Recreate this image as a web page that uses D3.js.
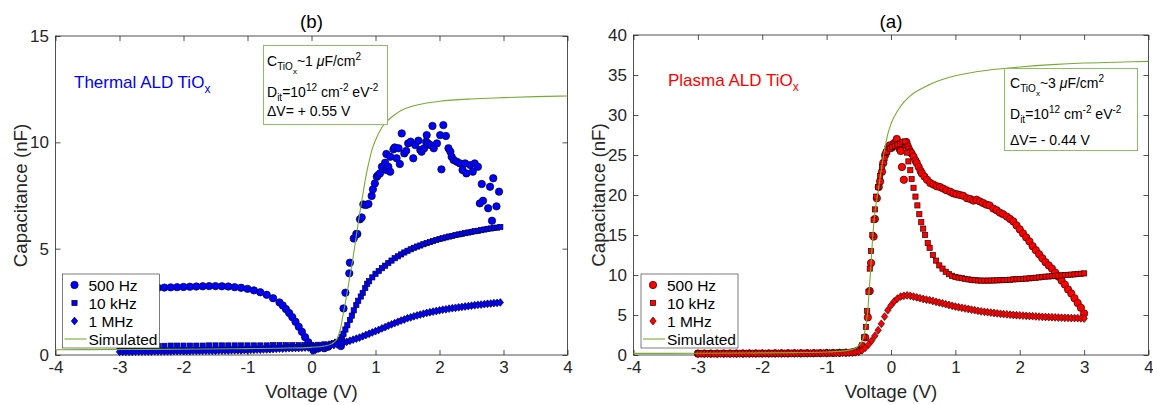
<!DOCTYPE html>
<html>
<head>
<meta charset="utf-8">
<script src="https://cdn.jsdelivr.net/npm/d3@7"></script>
<style>
  body { margin: 0; background: #fff; }
  svg { display: block; font-family: "Liberation Sans", Arial, Helvetica, sans-serif; }
</style>
</head>
<body>
<svg id="chart" width="1153" height="405"></svg>
<script>
// ---- data ----
const voltTicks = [-4, -3, -2, -1, 0, 1, 2, 3, 4];
const capTicksB = [0, 5, 10, 15];
const capTicksA = [0, 5, 10, 15, 20, 25, 30, 35, 40];
const legendLabels = ["500 Hz", "10 kHz", "1 MHz", "Simulated"];

// (b) thermal ALD, [V, nF]
const b500 = [
  [-3.0,3.10],[-2.9,3.11],[-2.8,3.12],[-2.7,3.13],[-2.6,3.14],[-2.5,3.15],[-2.4,3.16],[-2.3,3.17],
  [-2.2,3.18],[-2.1,3.19],[-2.0,3.20],[-1.9,3.21],[-1.8,3.22],[-1.7,3.23],[-1.6,3.24],[-1.5,3.24],
  [-1.4,3.23],[-1.3,3.22],[-1.2,3.19],[-1.1,3.16],[-1.0,3.11],[-0.9,3.04],[-0.8,2.95],[-0.7,2.83],
  [-0.6,2.67],[-0.5,2.47],[-0.45,2.33],[-0.4,2.16],[-0.35,1.98],[-0.3,1.78],[-0.25,1.56],[-0.2,1.33],
  [-0.15,1.09],[-0.1,0.84],[-0.05,0.60],[0.0,0.38],[0.03,0.22],[0.1,0.30],[0.2,0.32],[0.26,0.39],
  [0.46,0.42],[0.50,2.19],[0.53,2.93],[0.59,3.84],[0.60,4.34],[0.66,5.48],[0.70,5.69],
  [0.716,5.69],[0.758,6.38],[0.784,6.47],[0.81,7.08],[0.85,7.05],[0.89,7.10],[0.94,7.48],[0.96,7.79],
  [0.99,8.07],[1.02,8.38],[1.04,8.46],[1.07,8.54],[1.10,8.85],[1.15,9.04],[1.17,8.70],[1.20,8.85],
  [1.23,8.62],[1.17,9.45],[1.23,9.32],[1.28,9.67],[1.30,9.76],[1.33,9.25],[1.36,9.72],[1.41,10.42],
  [1.38,8.98],[1.45,9.48],[1.48,9.60],[1.51,9.95],[1.55,10.03],[1.59,9.25],[1.62,9.87],[1.67,10.08],
  [1.70,9.64],[1.72,9.56],[1.76,9.72],[1.79,10.03],[1.80,10.34],[1.82,9.95],[1.86,9.87],[1.89,10.77],
  [1.91,9.72],[1.96,9.95],[2.01,10.34],[2.06,10.81],[2.10,10.30],[2.03,8.73],[2.14,9.72],[2.17,9.56],
  [2.19,9.32],[2.22,9.17],[2.27,9.09],[2.32,9.01],[2.36,8.70],[2.40,9.01],[2.42,8.54],[2.48,8.93],
  [2.52,8.62],[2.55,9.01],[2.60,8.85],[2.63,7.13],[2.66,8.04],[2.68,7.25],[2.76,6.90],[2.79,7.91],
  [2.82,6.31],[2.84,8.31],[2.89,6.99],[2.93,7.68]
];
const b10k = [
  [-3.0,0.42],[-2.9,0.42],[-2.8,0.42],[-2.7,0.43],[-2.6,0.43],[-2.5,0.43],[-2.4,0.43],[-2.3,0.43],
  [-2.2,0.44],[-2.1,0.44],[-2.0,0.44],[-1.9,0.44],[-1.8,0.44],[-1.7,0.44],[-1.6,0.45],[-1.5,0.45],
  [-1.4,0.45],[-1.3,0.45],[-1.2,0.45],[-1.1,0.45],[-1.0,0.45],[-0.9,0.45],[-0.8,0.45],[-0.7,0.45],
  [-0.6,0.46],[-0.5,0.46],[-0.4,0.46],[-0.3,0.46],[-0.2,0.46],[-0.1,0.46],[0.0,0.47],[0.1,0.48],
  [0.2,0.50],[0.3,0.53],[0.35,0.56],[0.4,0.62],[0.45,0.72],[0.48,0.85],[0.5,1.00],[0.53,1.20],
  [0.56,1.40],[0.6,1.65],[0.63,1.85],[0.66,2.10],[0.7,2.35],[0.73,2.55],[0.77,2.75],[0.8,2.92],
  [0.84,3.15],[0.87,3.35],[0.9,3.47],[0.95,3.65],[1.0,3.82],[1.05,3.95],[1.1,4.08],[1.15,4.20],
  [1.2,4.32],[1.25,4.44],[1.3,4.55],[1.35,4.64],[1.4,4.73],[1.45,4.82],[1.5,4.90],[1.55,4.97],
  [1.6,5.04],[1.65,5.10],[1.7,5.15],[1.75,5.21],[1.8,5.26],[1.85,5.31],[1.9,5.36],[1.95,5.41],
  [2.0,5.45],[2.05,5.49],[2.1,5.53],[2.15,5.57],[2.2,5.60],[2.25,5.64],[2.3,5.67],[2.35,5.70],
  [2.4,5.73],[2.45,5.76],[2.5,5.79],[2.55,5.82],[2.6,5.84],[2.65,5.87],[2.7,5.90],[2.75,5.93],
  [2.8,5.95],[2.85,5.97],[2.9,5.99],[2.95,6.02]
];
const b1M = [
  [-3.00,0.15],[-2.95,0.15],[-2.90,0.15],[-2.85,0.15],[-2.80,0.15],[-2.75,0.16],[-2.70,0.16],[-2.65,0.16],
  [-2.60,0.16],[-2.55,0.16],[-2.50,0.16],[-2.45,0.17],[-2.40,0.17],[-2.35,0.17],[-2.30,0.17],[-2.25,0.17],
  [-2.20,0.17],[-2.15,0.18],[-2.10,0.18],[-2.05,0.18],[-2.00,0.18],[-1.95,0.18],[-1.90,0.18],[-1.85,0.19],
  [-1.80,0.19],[-1.75,0.19],[-1.70,0.19],[-1.65,0.20],[-1.60,0.20],[-1.55,0.20],[-1.50,0.20],[-1.45,0.21],
  [-1.40,0.21],[-1.35,0.21],[-1.30,0.21],[-1.25,0.22],[-1.20,0.22],[-1.15,0.22],[-1.10,0.22],[-1.05,0.23],
  [-1.00,0.23],[-0.95,0.24],[-0.90,0.24],[-0.85,0.25],[-0.80,0.25],[-0.75,0.26],[-0.70,0.26],[-0.65,0.27],
  [-0.60,0.28],[-0.55,0.29],[-0.50,0.30],[-0.45,0.30],[-0.40,0.31],[-0.35,0.32],[-0.30,0.32],[-0.25,0.33],
  [-0.20,0.33],[-0.15,0.34],[-0.10,0.35],[-0.05,0.35],[0.00,0.36],[0.05,0.37],[0.10,0.38],[0.15,0.39],
  [0.20,0.41],[0.25,0.43],[0.30,0.45],[0.35,0.47],[0.40,0.50],[0.45,0.54],[0.50,0.58],[0.55,0.62],
  [0.60,0.67],[0.65,0.72],[0.70,0.77],[0.75,0.82],[0.80,0.88],[0.85,0.94],[0.90,1.00],[0.95,1.06],
  [1.00,1.12],[1.05,1.18],[1.10,1.25],[1.15,1.31],[1.20,1.38],[1.25,1.44],[1.30,1.50],[1.35,1.56],
  [1.40,1.62],[1.45,1.67],[1.50,1.73],[1.55,1.77],[1.60,1.82],[1.65,1.86],[1.70,1.90],[1.75,1.94],
  [1.80,1.98],[1.85,2.01],[1.90,2.04],[1.95,2.07],[2.00,2.10],[2.05,2.13],[2.10,2.15],[2.15,2.18],
  [2.20,2.20],[2.25,2.22],[2.30,2.24],[2.35,2.26],[2.40,2.28],[2.45,2.30],[2.50,2.32],[2.55,2.34],
  [2.60,2.36],[2.65,2.37],[2.70,2.39],[2.75,2.41],[2.80,2.42],[2.85,2.44],[2.90,2.45],[2.95,2.47]
];
const bSim = [
  [-4,0.25],[-3,0.26],[-2,0.27],[-1,0.30],[-0.5,0.32],[0,0.36],[0.2,0.42],[0.3,0.50],[0.35,0.60],
  [0.4,0.75],[0.45,1.2],[0.5,2.0],[0.55,2.8],[0.6,3.7],[0.65,4.6],[0.7,5.6],[0.75,6.6],[0.8,7.5],
  [0.85,8.4],[0.9,9.1],[0.95,9.7],[1.0,10.1],[1.1,10.7],[1.2,11.05],[1.3,11.3],[1.4,11.5],
  [1.6,11.72],[1.8,11.85],[2.0,11.93],[2.5,12.04],[3.0,12.1],[3.5,12.15],[4.0,12.18]
];

// (a) plasma ALD, [V, nF]
const a500 = [
  [-3.0,0.18],[-2.9,0.18],[-2.8,0.18],[-2.7,0.18],[-2.6,0.19],[-2.5,0.19],[-2.4,0.19],[-2.3,0.19],
  [-2.2,0.20],[-2.1,0.20],[-2.0,0.20],[-1.9,0.20],[-1.8,0.21],[-1.7,0.21],[-1.6,0.21],[-1.5,0.22],
  [-1.4,0.22],[-1.3,0.23],[-1.2,0.23],[-1.1,0.24],[-1.0,0.25],[-0.9,0.26],[-0.8,0.28],[-0.7,0.30],
  [-0.6,0.35],[-0.55,0.45],[-0.5,0.6],[-0.45,1.1],[-0.4,2.2],[-0.36,4.7],[-0.33,8.0],[-0.31,11.5],
  [-0.27,14.8],[-0.25,17.0],[-0.22,19.6],[-0.19,21.0],[-0.17,21.7],[-0.14,22.9],[-0.12,24.0],
  [-0.09,25.0],[-0.07,25.4],[-0.04,26.0],[-0.02,26.2],[0.01,25.9],[0.04,26.4],[0.07,26.6],[0.09,27.0],
  [0.11,26.3],[0.13,25.8],[0.15,25.5],[0.17,23.5],[0.20,21.9],[0.22,26.3],[0.24,26.6],[0.26,26.1],
  [0.28,25.7],[0.30,25.4],[0.32,25.2],[0.35,24.8],[0.38,24.3],[0.40,24.0],[0.43,23.5],[0.46,23.0],
  [0.48,22.7],[0.52,22.3],[0.56,21.9],[0.61,21.5],[0.66,21.3],[0.71,21.1],[0.76,21.0],[0.81,20.8],
  [0.86,20.6],[0.92,20.4],[0.97,20.2],[1.02,20.1],[1.07,20.0],[1.12,19.9],[1.18,19.6],[1.23,19.5],
  [1.28,19.3],[1.33,19.4],[1.38,19.2],[1.43,19.0],[1.48,18.8],[1.53,18.7],[1.59,18.3],[1.64,18.1],
  [1.69,17.8],[1.74,17.6],[1.80,17.3],[1.85,17.0],[1.90,16.7],[1.95,16.2],[2.00,15.7],[2.05,15.2],
  [2.10,14.7],[2.15,14.2],[2.20,13.6],[2.25,13.1],[2.30,12.6],[2.35,12.1],[2.40,11.6],[2.45,11.2],
  [2.50,10.8],[2.55,10.3],[2.60,9.8],[2.65,9.3],[2.70,8.8],[2.75,8.2],[2.80,7.7],[2.85,7.1],
  [2.90,6.5],[2.95,5.9],[3.0,5.2]
];
const a10k = [
  [-3.0,0.15],[-2.9,0.15],[-2.8,0.15],[-2.7,0.15],[-2.6,0.16],[-2.5,0.16],[-2.4,0.16],[-2.3,0.16],
  [-2.2,0.17],[-2.1,0.17],[-2.0,0.17],[-1.9,0.18],[-1.8,0.18],[-1.7,0.18],[-1.6,0.19],[-1.5,0.19],
  [-1.4,0.20],[-1.3,0.20],[-1.2,0.21],[-1.1,0.22],[-1.0,0.23],[-0.9,0.24],[-0.8,0.26],[-0.7,0.28],
  [-0.6,0.32],[-0.55,0.35],[-0.5,0.6],[-0.45,1.2],[-0.42,2.2],[-0.39,3.5],[-0.37,5.5],[-0.35,7.9],
  [-0.33,10.8],[-0.31,13.0],[-0.29,15.0],[-0.27,16.9],[-0.25,18.2],[-0.23,19.8],[-0.20,21.0],
  [-0.17,22.4],[-0.14,23.5],[-0.10,24.6],[-0.06,25.4],[-0.02,25.8],[0.02,26.0],[0.06,26.1],
  [0.10,26.3],[0.14,26.4],[0.18,26.6],[0.22,26.7],[0.25,25.3],[0.27,24.2],[0.30,23.1],[0.32,22.0],
  [0.35,20.9],[0.38,19.8],[0.41,18.7],[0.44,17.6],[0.47,16.6],[0.50,15.8],[0.53,15.0],[0.57,14.0],
  [0.60,13.4],[0.65,12.5],[0.70,11.8],[0.75,11.2],[0.80,10.8],[0.85,10.4],[0.90,10.1],[0.95,9.9],
  [1.0,9.75],[1.05,9.67],[1.1,9.6],[1.15,9.52],[1.2,9.45],[1.25,9.4],[1.3,9.35],[1.35,9.32],
  [1.4,9.3],[1.45,9.3],[1.5,9.3],[1.55,9.31],[1.6,9.32],[1.65,9.33],[1.7,9.35],[1.75,9.36],
  [1.8,9.38],[1.85,9.41],[1.9,9.45],[1.95,9.47],[2.0,9.5],[2.05,9.52],[2.1,9.55],[2.15,9.58],
  [2.2,9.62],[2.25,9.66],[2.3,9.7],[2.35,9.75],[2.4,9.8],[2.45,9.82],[2.5,9.85],[2.55,9.88],
  [2.6,9.92],[2.65,9.96],[2.7,10.0],[2.75,10.02],[2.8,10.05],[2.85,10.08],[2.9,10.12],[2.95,10.16],
  [3.0,10.2]
];
const a1M = [
  [-3.00,0.15],[-2.95,0.15],[-2.90,0.15],[-2.85,0.15],[-2.80,0.15],[-2.75,0.15],[-2.70,0.15],[-2.65,0.16],
  [-2.60,0.16],[-2.55,0.16],[-2.50,0.16],[-2.45,0.16],[-2.40,0.16],[-2.35,0.17],[-2.30,0.17],[-2.25,0.17],
  [-2.20,0.17],[-2.15,0.17],[-2.10,0.17],[-2.05,0.18],[-2.00,0.18],[-1.95,0.18],[-1.90,0.18],[-1.85,0.18],
  [-1.80,0.18],[-1.75,0.19],[-1.70,0.19],[-1.65,0.19],[-1.60,0.19],[-1.55,0.20],[-1.50,0.20],[-1.45,0.20],
  [-1.40,0.20],[-1.35,0.21],[-1.30,0.21],[-1.25,0.21],[-1.20,0.22],[-1.15,0.22],[-1.10,0.22],[-1.05,0.23],
  [-1.00,0.23],[-0.95,0.23],[-0.90,0.24],[-0.85,0.24],[-0.80,0.25],[-0.75,0.26],[-0.70,0.27],[-0.65,0.28],
  [-0.60,0.30],[-0.55,0.33],[-0.50,0.40],[-0.45,0.60],[-0.40,0.90],[-0.35,1.30],[-0.30,1.80],[-0.25,2.40],
  [-0.20,3.10],[-0.15,3.90],[-0.10,4.80],[-0.05,5.60],[0.00,6.20],[0.05,6.70],[0.10,7.05],[0.15,7.30],
  [0.20,7.40],[0.25,7.45],[0.30,7.40],[0.35,7.30],[0.40,7.20],[0.45,7.10],[0.50,7.00],[0.55,6.92],
  [0.60,6.85],[0.65,6.75],[0.70,6.65],[0.75,6.55],[0.80,6.45],[0.85,6.35],[0.90,6.25],[0.95,6.15],
  [1.00,6.05],[1.05,5.97],[1.10,5.90],[1.15,5.82],[1.20,5.75],[1.25,5.67],[1.30,5.60],[1.35,5.52],
  [1.40,5.45],[1.45,5.40],[1.50,5.35],[1.55,5.30],[1.60,5.25],[1.65,5.20],[1.70,5.15],[1.75,5.11],
  [1.80,5.08],[1.85,5.04],[1.90,5.00],[1.95,4.97],[2.00,4.95],[2.05,4.92],[2.10,4.90],[2.15,4.87],
  [2.20,4.85],[2.25,4.82],[2.30,4.80],[2.35,4.77],[2.40,4.75],[2.45,4.73],[2.50,4.72],[2.55,4.70],
  [2.60,4.68],[2.65,4.66],[2.70,4.65],[2.75,4.63],[2.80,4.62],[2.85,4.61],[2.90,4.60],[2.95,4.58],
  [3.00,4.55]
];
const aSim = [
  [-4,0.20],[-3,0.22],[-2,0.26],[-1.5,0.30],[-1,0.38],[-0.8,0.45],[-0.7,0.55],[-0.6,0.70],
  [-0.55,0.85],[-0.5,1.2],[-0.45,1.7],[-0.43,2.1],[-0.4,3.2],[-0.38,4.3],[-0.36,5.6],[-0.34,8.0],
  [-0.32,10.2],[-0.3,12.8],[-0.27,16.2],[-0.24,18.4],[-0.2,20.5],[-0.15,23.2],[-0.1,25.6],
  [-0.05,27.6],[0,28.9],[0.1,30.5],[0.2,31.6],[0.3,32.4],[0.5,33.4],[0.75,34.3],[1.0,34.9],
  [1.5,35.6],[2.0,36.0],[2.5,36.3],[3.0,36.5],[3.5,36.6],[4.0,36.7]
];

// annotation texts: [text, level] (1 = superscript, -1 = subscript, -2 = sub-subscript)
const boxTextB = [
  [["C",0],["TiO",-1],["x",-2],["~1 ",0],["\u03bc",0,"italic"],["F/cm",0],["2",1]],
  [["D",0],["it",-1],["=10",0],["12",1],[" cm",0],["-2",1],[" eV",0],["-2",1]],
  [["\u0394V= + 0.55 V",0]]
];
const boxTextA = [
  [["C",0],["TiO",-1],["x",-2],["~3 ",0],["\u03bc",0,"italic"],["F/cm",0],["2",1]],
  [["D",0],["it",-1],["=10",0],["12",1],[" cm",0],["-2",1],[" eV",0],["-2",1]],
  [["\u0394V= - 0.44 V",0]]
];

// ---- drawing ----
const svg = d3.select("#chart");
const axisColor = "#262626";
const simColor = "#77ac30";

const panels = [
  {
    title: "(b)", x0: 55.5, x1: 567.5, y0: 36, y1: 355, yMax: 15, yTicks: capTicksB,
    series: [b500, b10k, b1M], sim: bSim, fill: "#0000ff", edge: "#000036",
    tag: "Thermal ALD TiO", tagPos: [74, 88],
    box: { x: 263, y: 45, w: 124, h: 79, tx: 267, lines: [66, 97, 116] }, boxText: boxTextB,
    legend: { x: 62.5, y: 274 }, yLabelX: 27
  },
  {
    title: "(a)", x0: 633.5, x1: 1148.5, y0: 35, y1: 355, yMax: 40, yTicks: capTicksA,
    series: [a500, a10k, a1M], sim: aSim, fill: "#ff0000", edge: "#360000",
    tag: "Plasma ALD TiO", tagPos: [668, 86],
    box: { x: 1004, y: 68, w: 133, h: 82, tx: 1010, lines: [88, 119, 145] }, boxText: boxTextA,
    legend: { x: 641, y: 274 }, yLabelX: 605
  }
];

function marker(sel, kind, fill, edge) {
  if (kind === 0) {
    sel.append("circle").attr("r", 3.7);
  } else if (kind === 1) {
    sel.append("rect").attr("x", -2.6).attr("y", -2.6).attr("width", 5.2).attr("height", 5.2);
  } else {
    sel.append("path").attr("d", "M0,-3.9L3.2,0L0,3.9L-3.2,0Z");
  }
  sel.selectAll("*").attr("fill", fill).attr("stroke", edge).attr("stroke-width", 0.7);
}

function richText(g, parts, x, y) {
  const shift = { "0": 0, "1": -6, "-1": 4, "-2": 8 };
  const size = { "0": 14, "1": 10, "-1": 10, "-2": 8 };
  const t = g.append("text").attr("x", x).attr("y", y).attr("fill", "#000");
  let prev = 0;
  parts.forEach(([s, lvl, style]) => {
    t.append("tspan")
      .attr("dy", shift[lvl] - shift[prev])
      .attr("font-size", size[lvl])
      .attr("font-style", style || null)
      .text(s);
    prev = lvl;
  });
}

function styleAxis(g) {
  g.select(".domain").remove();
  g.selectAll(".tick line").attr("stroke", axisColor).attr("stroke-width", 0.8);
  g.selectAll(".tick text").attr("fill", axisColor).attr("font-size", 17)
    .attr("font-family", "'Liberation Sans', Arial, sans-serif");
}

panels.forEach(p => {
  const x = d3.scaleLinear().domain([-4, 4]).range([p.x0, p.x1]);
  const y = d3.scaleLinear().domain([0, p.yMax]).range([p.y1, p.y0]);
  const g = svg.append("g");
  const fmt = d => String(d);

  // axes (ticks inside, box style)
  g.append("g").attr("transform", `translate(0,${p.y1})`)
    .call(d3.axisBottom(x).tickValues(voltTicks).tickSize(-5).tickPadding(6).tickFormat(fmt))
    .call(styleAxis);
  g.append("g").attr("transform", `translate(0,${p.y0})`)
    .call(d3.axisTop(x).tickValues(voltTicks).tickSize(-5).tickFormat(""))
    .call(styleAxis);
  g.append("g").attr("transform", `translate(${p.x0},0)`)
    .call(d3.axisLeft(y).tickValues(p.yTicks).tickSize(-5).tickPadding(6.5).tickFormat(fmt))
    .call(styleAxis);
  g.append("g").attr("transform", `translate(${p.x1},0)`)
    .call(d3.axisRight(y).tickValues(p.yTicks).tickSize(-5).tickFormat(""))
    .call(styleAxis);
  g.append("rect")
    .attr("x", p.x0).attr("y", p.y0)
    .attr("width", p.x1 - p.x0).attr("height", p.y1 - p.y0)
    .attr("fill", "none").attr("stroke", axisColor).attr("stroke-width", 0.8);

  // measured series
  p.series.forEach((data, k) => {
    g.append("g").selectAll("g").data(data).join("g")
      .attr("transform", d => `translate(${x(d[0])},${y(d[1])})`)
      .each(function () { marker(d3.select(this), k, p.fill, p.edge); });
  });

  // simulated curve
  const line = d3.line().x(d => x(d[0])).y(d => y(d[1])).curve(d3.curveMonotoneX);
  g.append("path").datum(p.sim).attr("d", line)
    .attr("fill", "none").attr("stroke", simColor).attr("stroke-width", 1.1);

  // titles and labels
  g.append("text").attr("x", (p.x0 + p.x1) / 2).attr("y", 28).attr("text-anchor", "middle")
    .attr("font-size", 18.7).attr("fill", "#000").text(p.title);
  g.append("text").attr("x", (p.x0 + p.x1) / 2).attr("y", 398).attr("text-anchor", "middle")
    .attr("font-size", 18.7).attr("fill", axisColor).text("Voltage (V)");
  g.append("text")
    .attr("transform", `translate(${p.yLabelX},${(p.y0 + p.y1) / 2}) rotate(-90)`)
    .attr("text-anchor", "middle").attr("font-size", 18.7).attr("fill", axisColor)
    .text("Capacitance (nF)");

  // sample tag
  const tag = g.append("text").attr("x", p.tagPos[0]).attr("y", p.tagPos[1])
    .attr("font-size", 17).attr("fill", p.fill);
  tag.append("tspan").text(p.tag);
  tag.append("tspan").attr("dy", 5).attr("font-size", 12).text("x");

  // parameter box
  g.append("rect").attr("x", p.box.x + 0.5).attr("y", p.box.y + 0.5)
    .attr("width", p.box.w).attr("height", p.box.h)
    .attr("fill", "#fff").attr("stroke", "#8cbf5f").attr("stroke-width", 1);
  p.boxText.forEach((parts, i) => richText(g, parts, p.box.tx, p.box.lines[i]));

  // legend
  const lg = g.append("g").attr("transform", `translate(${p.legend.x},${p.legend.y})`);
  lg.append("rect").attr("x", 0).attr("y", 0).attr("width", 97).attr("height", 74)
    .attr("fill", "#fff").attr("stroke", axisColor).attr("stroke-width", 0.6);
  legendLabels.forEach((lab, i) => {
    const cy = 11 + i * 18;
    if (i < 3) {
      const m = lg.append("g").attr("transform", `translate(12,${cy})`);
      marker(m, i, p.fill, p.edge);
    } else {
      lg.append("line").attr("x1", 2).attr("x2", 24).attr("y1", cy).attr("y2", cy)
        .attr("stroke", simColor).attr("stroke-width", 1.1);
    }
    lg.append("text").attr("x", 26).attr("y", cy + 5.5)
      .attr("font-size", 15.5).attr("fill", "#000").text(lab);
  });
});
</script>
</body>
</html>
